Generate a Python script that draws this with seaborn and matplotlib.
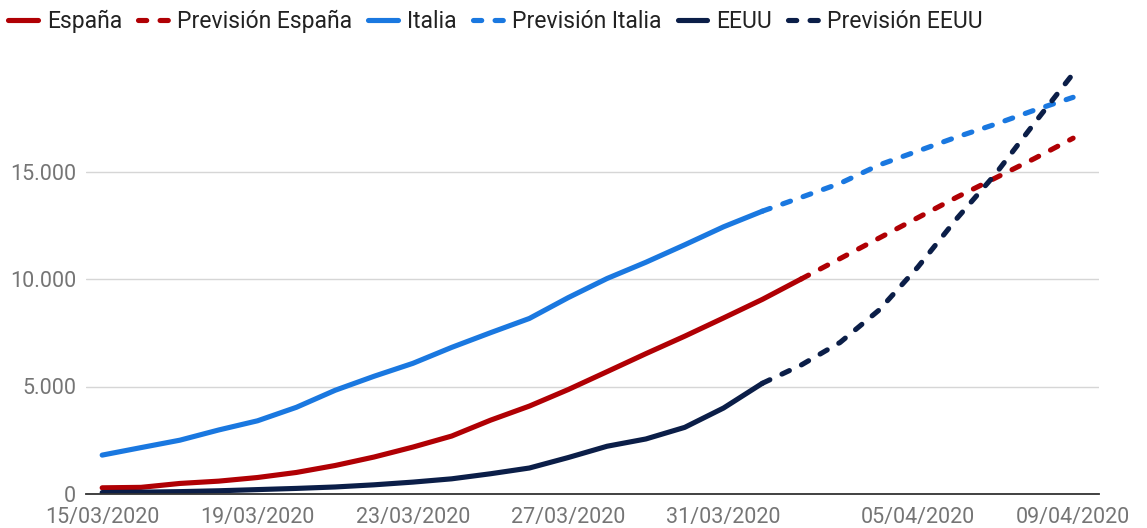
import pandas as pd
import matplotlib.pyplot as plt
import seaborn as sns

# Fallecidos acumulados, 15/03/2020 - 09/04/2020
dates = pd.date_range("2020-03-15", "2020-04-09", freq="D")

spain = [288, 309, 491, 598, 767, 1002, 1326, 1720, 2182, 2696, 3434, 4089,
         4858, 5690, 6528, 7340, 8189, 9053, 10003]
spain_fc = [10003, 10950, 11900, 12850, 13800, 14700, 15600, 16550]

italy = [1809, 2158, 2503, 2978, 3405, 4032, 4825, 5476, 6077, 6820, 7503,
         8165, 9134, 10023, 10779, 11591, 12428, 13155]
italy_fc = [13155, 13800, 14450, 15300, 15950, 16600, 17200, 17850, 18450]

usa = [68, 86, 110, 150, 205, 260, 327, 427, 553, 706, 942, 1209, 1696,
       2221, 2560, 3100, 4000, 5150]
usa_fc = [5150, 6000, 7050, 8550, 10550, 12800, 14880, 17240, 19550]

series = [
    ("España", dates[:len(spain)], spain, "#b00004", False),
    ("Previsión España", dates[len(spain) - 1:], spain_fc, "#b00004", True),
    ("Italia", dates[:len(italy)], italy, "#1a78e0", False),
    ("Previsión Italia", dates[len(italy) - 1:], italy_fc, "#1a78e0", True),
    ("EEUU", dates[:len(usa)], usa, "#0b1e48", False),
    ("Previsión EEUU", dates[len(usa) - 1:], usa_fc, "#0b1e48", True),
]

tick_dates = pd.to_datetime(["2020-03-15", "2020-03-19", "2020-03-23", "2020-03-27",
                             "2020-03-31", "2020-04-05", "2020-04-09"])
y_ticks = [0, 5000, 10000, 15000]

sns.set_style("white")
plt.rcParams["font.family"] = ["Roboto", "DejaVu Sans"]

fig = plt.figure(figsize=(11.47, 5.28), dpi=100)
ax = fig.add_axes([86 / 1147, 1 - 494 / 528, (1099 - 86) / 1147, (494 - 64) / 528])

lw = 3.7
for label, x, y, color, dashed in series:
    kw = dict(solid_capstyle="round", dash_capstyle="round")
    if dashed:
        kw["linestyle"] = (0, (1.6, 2.6))
    sns.lineplot(x=x, y=y, ax=ax, color=color, linewidth=lw, label=label, **kw)

ax.set_xlim(dates[0] - pd.Timedelta(hours=10), dates[-1] + pd.Timedelta(hours=16))
ax.set_ylim(0, 20000)
ax.set_yticks(y_ticks)
ax.set_yticklabels([f"{v:,}".replace(",", ".") for v in y_ticks])
ax.set_xticks(tick_dates)
ax.set_xticklabels([d.strftime("%d/%m/%Y") for d in tick_dates])
ax.set_xlabel("")
ax.set_ylabel("")

ax.grid(axis="y", color="#d6d6d6", linewidth=1)
ax.grid(axis="x", visible=False)
for s in ["top", "right", "left"]:
    ax.spines[s].set_visible(False)
ax.spines["bottom"].set_color("#333333")
ax.spines["bottom"].set_linewidth(1.3)
ax.tick_params(axis="both", length=0, labelsize=15.5, labelcolor="#757575")
ax.tick_params(axis="y", pad=7)
ax.tick_params(axis="x", pad=9)

handles, labels = ax.get_legend_handles_labels()
ax.get_legend().remove()
fig.legend(handles, labels, loc="center left", bbox_to_anchor=(8 / 1147, 1 - 21 / 528),
           ncol=6, frameon=False, fontsize=16.5, handlelength=1.3,
           handletextpad=0.4, columnspacing=0.7, borderpad=0, borderaxespad=0,
           labelcolor="#222222")

fig.savefig("out.png", dpi=100)
